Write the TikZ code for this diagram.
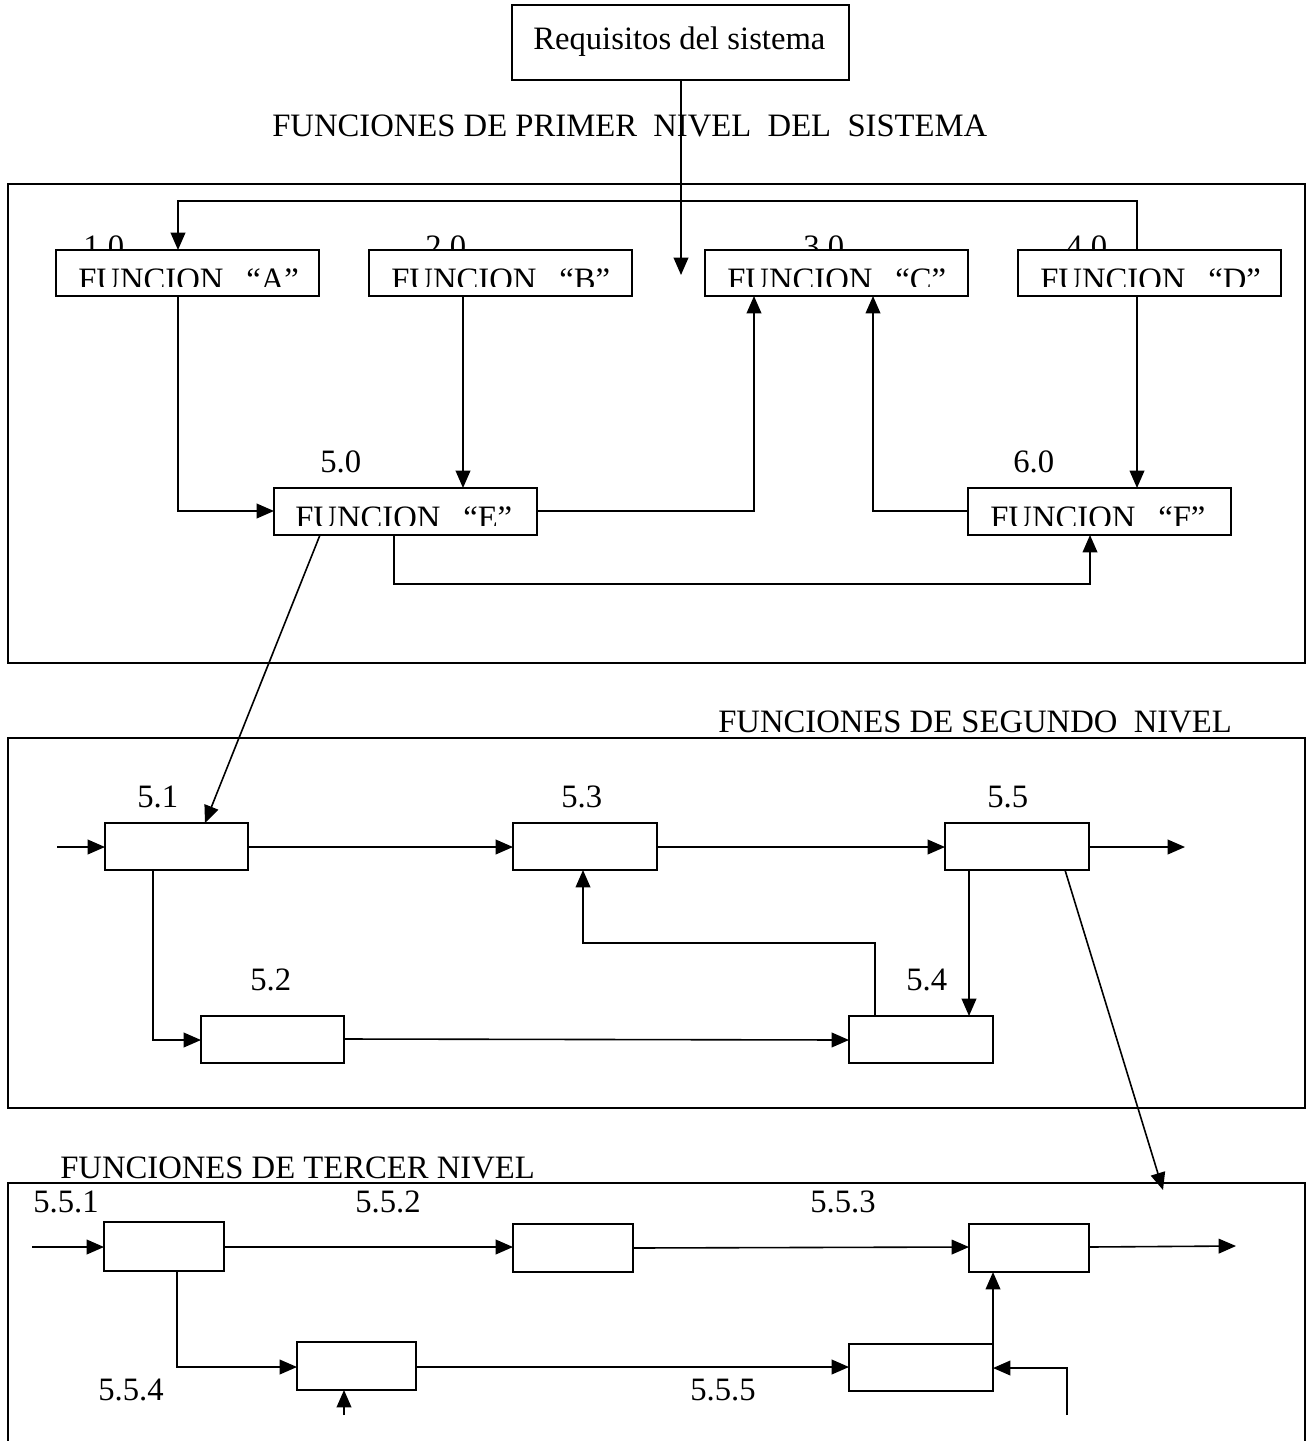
\documentclass[tikz,border=0pt]{standalone}
\usepackage{fontspec}
\setmainfont{Liberation Serif}
\usetikzlibrary{arrows.meta}
\tikzset{
  every picture/.style={x=0.75pt,y=-0.75pt},
  txt/.style={anchor=base west,inner sep=0pt,font=\fontsize{24.5}{29}\selectfont},
  fbox/.style={draw,fill=white,line width=1.2pt,inner sep=0pt,outer sep=0pt},
  panel/.style={draw,line width=2pt},
  arr/.style={line width=1.2pt,-{Triangle[length=13pt,width=11pt]}},
}
\newcommand{\bx}[5]{\node[fbox,minimum width={(#4-#2)*0.75pt},minimum height={(#5-#3)*0.75pt}] (#1) at ({(#2+#4)/2},{(#3+#5)/2}) {};}
\newcommand{\fgap}{\hspace{0.7em}}
\begin{document}
\begin{tikzpicture}
\useasboundingbox (0,0) rectangle (1311,1441);
% ---------------- top ----------------
\bx{req}{512}{5}{849}{80}
\node[txt] (reqt) at (533,50) {Requisitos del sistema};
\node[txt] (t1) at (272,137) {FUNCIONES DE PRIMER\ \ NIVEL\ \ DEL\ \ SISTEMA};
\coordinate (reqin) at (681,275);
\draw[arr] (req.south -| reqin) -- (reqin);
% panel 1
\draw[panel] (8,184) rectangle (1305,663);
% labels (partly hidden by boxes)
\node[txt] (l1) at (83,257) {1.0};
\node[txt] (l2) at (425,257) {2.0};
\node[txt] (l3) at (803,257) {3.0};
\node[txt] (l4) at (1066,257) {4.0};
\node[txt] (l5) at (320,472) {5.0};
\node[txt] (l6) at (1013,472) {6.0};
\bx{A}{56}{250}{319}{296}
\bx{B}{369}{250}{632}{296}
\bx{C}{705}{250}{968}{296}
\bx{D}{1018}{250}{1281}{296}
\bx{E}{274}{488}{537}{535}
\bx{F}{968}{488}{1231}{535}
\begin{scope}\clip (56,250) rectangle (319,286);\node[txt] (tA) at (78,290) {FUNCION\fgap“A”};\end{scope}
\begin{scope}\clip (369,250) rectangle (632,286);\node[txt] (tB) at (391,290) {FUNCION\fgap“B”};\end{scope}
\begin{scope}\clip (705,250) rectangle (968,286);\node[txt] (tC) at (727,290) {FUNCION\fgap“C”};\end{scope}
\begin{scope}\clip (1018,250) rectangle (1281,286);\node[txt] (tD) at (1040,290) {FUNCION\fgap“D”};\end{scope}
\begin{scope}\clip (274,488) rectangle (537,525);\node[txt] (tE) at (295,528) {FUNCION\fgap“E”};\end{scope}
\begin{scope}\clip (968,488) rectangle (1231,525);\node[txt] (tF) at (990,528) {FUNCION\fgap“F”};\end{scope}
% connectors level 1
\draw[arr] (1137,0 |- D.north) -- (1137,201) -- (178,201) -- (178,0 |- A.north);
\draw[arr] (178,0 |- A.south) -- (178,511) -- (E.west |- 0,511);
\draw[arr] (463,0 |- B.south) -- (463,0 |- E.north);
\draw[arr] (E.east |- 0,511) -- (754,511) -- (754,0 |- C.south);
\draw[arr] (F.west |- 0,511) -- (873,511) -- (873,0 |- C.south);
\draw[arr] (1137,0 |- D.south) -- (1137,0 |- F.north);
\draw[arr] (394,0 |- E.south) -- (394,584) -- (1090,584) -- (1090,0 |- F.south);
% ---------------- level 2 ----------------
\node[txt] (t2) at (718,732) {FUNCIONES DE SEGUNDO\ \ NIVEL};
\draw[panel] (8,738) rectangle (1305,1108);
\node[txt] (m1) at (137,807) {5.1};
\node[txt] (m3) at (561,807) {5.3};
\node[txt] (m5) at (987,807) {5.5};
\node[txt] (m2) at (250,990) {5.2};
\node[txt] (m4) at (906,990) {5.4};
\bx{s1}{105}{823}{248}{870}
\bx{s3}{513}{823}{657}{870}
\bx{s5}{945}{823}{1089}{870}
\bx{s2}{201}{1016}{344}{1063}
\bx{s4}{849}{1016}{993}{1063}
\draw[arr] (320,0 |- E.south) -- (205,0 |- s1.north);
\coordinate (in2) at (57,847);
\coordinate (out2) at (1185,847);
\draw[arr] (in2) -- (s1.west |- in2);
\draw[arr] (s1.east |- 0,847) -- (s3.west |- 0,847);
\draw[arr] (s3.east |- 0,847) -- (s5.west |- 0,847);
\draw[arr] (s5.east |- out2) -- (out2);
\draw[arr] (153,0 |- s1.south) -- (153,1040) -- (s2.west |- 0,1040);
\draw[arr] (s2.east |- 0,1039) -- (s4.west |- 0,1040);
\draw[arr] (875,0 |- s4.north) -- (875,943) -- (583,943) -- (583,0 |- s3.south);
\draw[arr] (969,0 |- s5.south) -- (969,0 |- s4.north);
\coordinate (d3) at (1163,1190);
\draw[arr] (1065,0 |- s5.south) -- (d3);
% ---------------- level 3 ----------------
\node[txt] (t3) at (60,1178) {FUNCIONES DE TERCER NIVEL};
\draw[panel] (8,1441) -- (8,1183) -- (1305,1183) -- (1305,1441);
\node[txt] (n1) at (33,1212) {5.5.1};
\node[txt] (n2) at (355,1212) {5.5.2};
\node[txt] (n3) at (810,1212) {5.5.3};
\node[txt] (n4) at (98,1400) {5.5.4};
\node[txt] (n5) at (690,1400) {5.5.5};
\bx{c1}{104}{1222}{224}{1271}
\bx{c2}{513}{1224}{633}{1272}
\bx{c3}{969}{1224}{1089}{1272}
\bx{c4}{297}{1342}{416}{1390}
\bx{c5}{849}{1344}{993}{1391}
\coordinate (in3) at (32,1247);
\coordinate (out3) at (1236,1246);
\coordinate (b4) at (344,1415);
\coordinate (b5) at (1067,1415);
\draw[arr] (in3) -- (c1.west |- in3);
\draw[arr] (c1.east |- 0,1247) -- (c2.west |- 0,1247);
\draw[arr] (c2.east |- 0,1248) -- (c3.west |- 0,1247);
\draw[arr] (c3.east |- 0,1247) -- (out3);
\draw[arr] (177,0 |- c1.south) -- (177,1367) -- (c4.west |- 0,1367);
\draw[arr] (c4.east |- 0,1367) -- (c5.west |- 0,1367);
\draw[arr] (c5.north east) -- (c5.east |- c3.south);
\draw[arr] (b5) -- (1067,1368) -- (c5.east |- 0,1368);
\draw[arr] (b4) -- (b4 |- c4.south);
\end{tikzpicture}
\end{document}
